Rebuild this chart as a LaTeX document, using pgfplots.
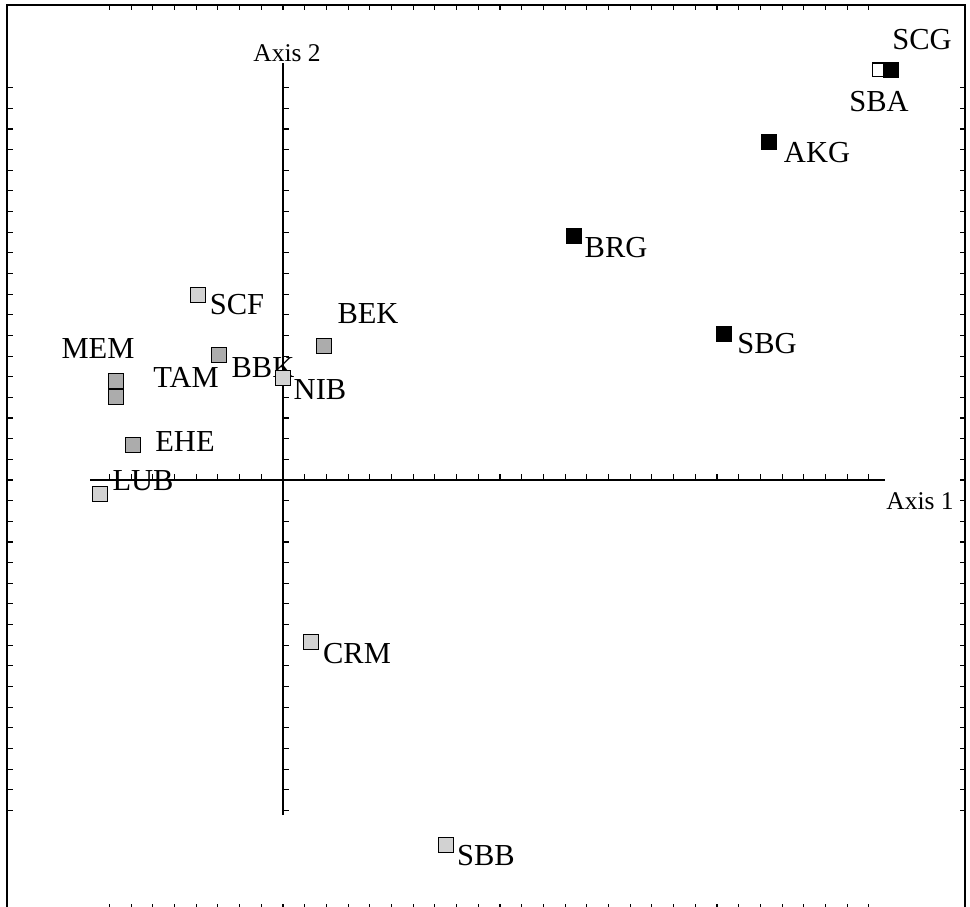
\documentclass[border=0pt]{standalone}
\usepackage{pgfplots}
\pgfplotsset{compat=1.18}
\usepackage{fontspec}
\setmainfont{Liberation Serif}
\begin{document}
\begin{tikzpicture}
\begin{axis}[name=ax,
  x=0.4pt, y=0.4pt,
  xmin=7, xmax=965, ymin=-3, ymax=901,
  axis line style={line width=0.8pt},
  tick align=inside,
  major tick length=2.2pt,
  tick style={line width=0.45pt, black},
  xtick={109.4,131.1,...,869}, ytick={95.6,116.25,...,819},
  xticklabels={}, yticklabels={},
  clip=false,
  every node/.style={inner sep=0pt},
]
% inner axes
\addplot[line width=0.6pt] coordinates {(90,426) (885,426)};
\addplot[line width=0.6pt] coordinates {(283,91) (283,843)};
\pgfplotsinvokeforeach{-8,...,27}{\draw[line width=0.45pt] (axis cs:{283+21.7*#1},426) -- ++(0pt,2.2pt);}
\pgfplotsinvokeforeach{-16,...,19}{\draw[line width=0.45pt] (axis cs:283,{426+20.65*#1}) -- ++(2.2pt,0pt);}
% light gray samples
\addplot[only marks, mark=square*, mark size=3pt,
  mark options={fill=gray!35, draw=black, line width=0.55pt}]
  coordinates {(198,611) (283,528) (100,412) (311,264) (446,61)};
% darker gray samples
\addplot[only marks, mark=square*, mark size=3pt,
  mark options={fill=gray!65, draw=black, line width=0.55pt}]
  coordinates {(116,525) (116,509) (219,551) (324,560) (133,461)};
% SBA
\addplot[only marks, mark=square*, mark size=2.7pt,
  mark options={fill=white, draw=black, line width=0.6pt}]
  coordinates {(879,836)};
% black samples
\addplot[only marks, mark=square*, mark size=3pt,
  mark options={fill=black, draw=black}]
  coordinates {(891,836) (769,764) (574,670) (724,572)};
% labels
\begin{scope}[font=\fontsize{12.2}{14}\selectfont]
\node at (axis cs:922,866) {SCG};
\node at (axis cs:879,804) {SBA};
\node at (axis cs:817,753) {AKG};
\node at (axis cs:616,658) {BRG};
\node at (axis cs:767,562) {SBG};
\node at (axis cs:237,601) {SCF};
\node at (axis cs:368,592) {BEK};
\node at (axis cs:98,557) {MEM};
\node at (axis cs:186,529) {TAM};
\node at (axis cs:263,538) {BBK};
\node at (axis cs:320,516) {NIB};
\node at (axis cs:185,464) {EHE};
\node at (axis cs:143,425) {LUB};
\node at (axis cs:357,252) {CRM};
\node at (axis cs:486,50) {SBB};
\end{scope}
\node[font=\fontsize{10.2}{12}\selectfont] at (axis cs:287,853) {Axis 2};
\node[font=\fontsize{10.2}{12}\selectfont] at (axis cs:920,405) {Axis 1};
\end{axis}
\pgfresetboundingbox
\useasboundingbox ([shift={(-2.8pt,1.2pt)}]ax.south west) rectangle ([shift={(2pt,2pt)}]ax.north east);
\end{tikzpicture}
\end{document}
